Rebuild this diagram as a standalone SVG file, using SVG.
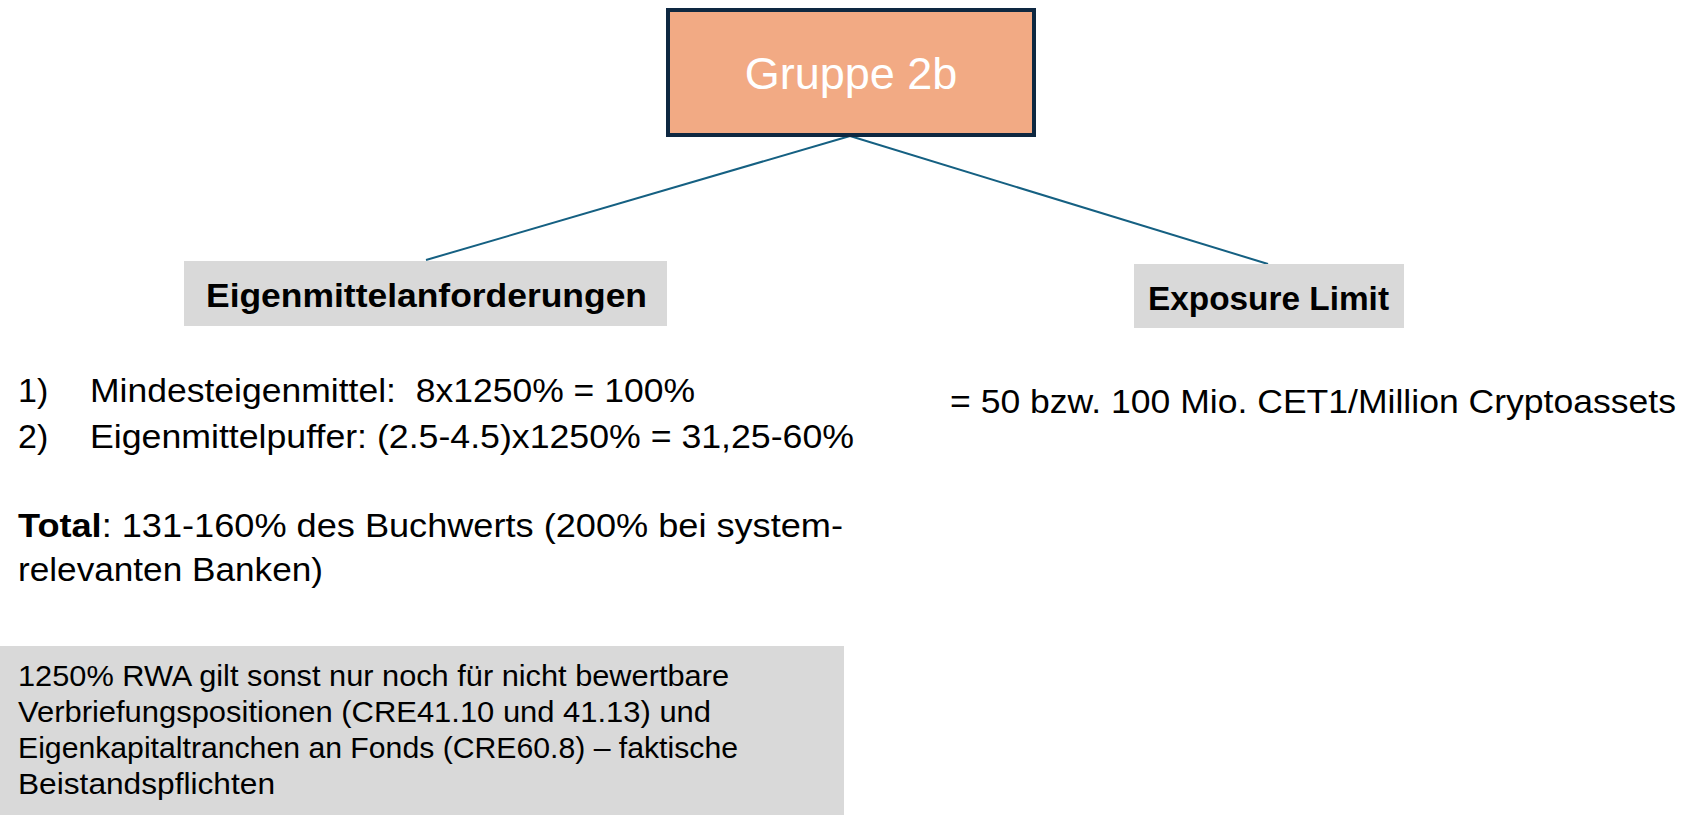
<svg xmlns="http://www.w3.org/2000/svg" width="1688" height="815" viewBox="0 0 1688 815">
<style>
.t{font-family:"Liberation Sans",Arial,sans-serif;fill:#000}
.b{font-weight:bold}
.gray{fill:#D9D9D9}
.conn{stroke:#156082;stroke-width:2;fill:none}
</style>
<rect width="1688" height="815" fill="#fff"/>
<g id="connectors">
<line class="conn" x1="850" y1="136" x2="426" y2="260"/>
<line class="conn" x1="850" y1="136" x2="1268" y2="264"/>
</g>
<g id="node-gruppe">
<rect x="668" y="10" width="366" height="125" fill="#F2AA84" stroke="#0E2841" stroke-width="4"/>
<text x="851" y="89" text-anchor="middle" style="font-family:'Liberation Sans',Arial,sans-serif;font-size:45px;fill:#fff">Gruppe 2b</text>
</g>
<g id="node-eigen">
<rect class="gray" x="184" y="261" width="483" height="65"/>
<text class="t b" x="206" y="307" font-size="33" textLength="441" lengthAdjust="spacingAndGlyphs">Eigenmittelanforderungen</text>
</g>
<g id="node-exposure">
<rect class="gray" x="1134" y="264" width="270" height="64"/>
<text class="t b" x="1148" y="310" font-size="33" textLength="241" lengthAdjust="spacingAndGlyphs">Exposure Limit</text>
</g>
<g id="text-list">
<text class="t" x="18" y="402" font-size="34">1)</text>
<text class="t" x="90" y="402" font-size="34" xml:space="preserve" textLength="605" lengthAdjust="spacingAndGlyphs">Mindesteigenmittel:  8x1250% = 100%</text>
<text class="t" x="18" y="448" font-size="34">2)</text>
<text class="t" x="90" y="448" font-size="34" textLength="764" lengthAdjust="spacingAndGlyphs">Eigenmittelpuffer: (2.5-4.5)x1250% = 31,25-60%</text>
<text class="t" x="18" y="537" font-size="34" textLength="825" lengthAdjust="spacingAndGlyphs"><tspan class="b">Total</tspan>: 131-160% des Buchwerts (200% bei system-</text>
<text class="t" x="18" y="581" font-size="34" textLength="305" lengthAdjust="spacingAndGlyphs">relevanten Banken)</text>
</g>
<g id="text-limit">
<text class="t" x="950" y="413" font-size="34" textLength="726" lengthAdjust="spacingAndGlyphs">= 50 bzw. 100 Mio. CET1/Million Cryptoassets</text>
</g>
<g id="node-note">
<rect class="gray" x="0" y="646" width="844" height="169"/>
<text class="t" x="18" y="686" font-size="29" textLength="711" lengthAdjust="spacingAndGlyphs">1250% RWA gilt sonst nur noch für nicht bewertbare</text>
<text class="t" x="18" y="722" font-size="29" textLength="693" lengthAdjust="spacingAndGlyphs">Verbriefungspositionen (CRE41.10 und 41.13) und</text>
<text class="t" x="18" y="758" font-size="29" textLength="720" lengthAdjust="spacingAndGlyphs">Eigenkapitaltranchen an Fonds (CRE60.8) – faktische</text>
<text class="t" x="18" y="794" font-size="29" textLength="257" lengthAdjust="spacingAndGlyphs">Beistandspflichten</text>
</g>
</svg>
